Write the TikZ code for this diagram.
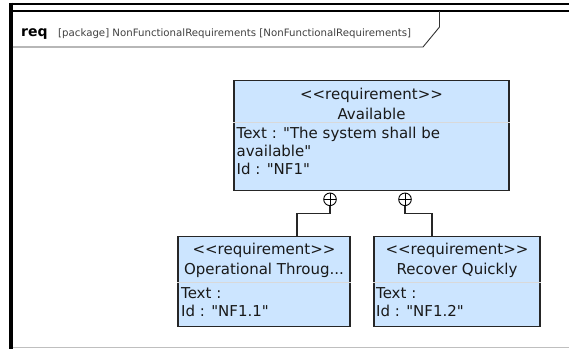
\documentclass[tikz,border=0pt]{standalone}
\usepackage{fontspec}
\newfontfamily\umlfont{DejaVu Sans}
\usepackage{xcolor}
\definecolor{reqblue}{RGB}{204,229,255}

\begin{document}
\begin{tikzpicture}[
  x=1pt,y=-1pt,
  font=\umlfont,
  frameLine/.style={line width=2.5pt,black},
  tabLine/.style={line width=0.9pt,black!80},
  requirement/.style={draw=black!85,line width=1.1pt,fill=reqblue,rectangle,inner sep=0pt},
  stereo/.style={anchor=base,align=center,inner sep=0pt,text=black!90,font=\umlfont\fontsize{15}{20}\selectfont},
  attrs/.style={anchor=base west,align=left,inner sep=0pt,text=black!90,font=\umlfont\fontsize{15}{18}\selectfont},
  compartment/.style={draw=black!15,line width=0.6pt},
  containment/.style={draw,circle,line width=0.9pt,minimum size=12.6pt,inner sep=0pt,
    path picture={\draw[line width=0.9pt] (path picture bounding box.north) -- (path picture bounding box.south)
      (path picture bounding box.west) -- (path picture bounding box.east);}},
  containLine/.style={line width=1.1pt,black!85}]

  \useasboundingbox (0,0) rectangle (569,349);

  % diagram frame and its tab
  \draw[line width=2pt] (9.5,3.5) -- (569,3.5);
  \draw[frameLine] (11,11) -- (569,11);
  \draw[line width=3.5pt] (11,2.5) -- (11,349);
  \draw[gray!50,line width=0.8pt] (13,347.5) -- (569,347.5);
  \draw[tabLine] (12.5,47) -- (423,47) -- (439.5,27) -- (439.5,11);
  \node[anchor=base west,inner sep=0pt,font=\umlfont\bfseries\fontsize{14}{16}\selectfont] (reqkw) at (21,36) {req};
  \node[anchor=base west,inner sep=0pt,text=black!75,font=\umlfont\fontsize{10.2}{12}\selectfont] (reqname) at (58,36)
    {[package] NonFunctionalRequirements [NonFunctionalRequirements]};

  % requirement boxes
  \node[requirement,minimum width=275pt,minimum height=110.5pt] (avail) at (371.5,135.3) {};
  \node[requirement,minimum width=172pt,minimum height=90pt] (opthru) at (264,281.7) {};
  \node[requirement,minimum width=166pt,minimum height=90pt] (recover) at (457,281.7) {};

  \draw[compartment] ([yshift=-43pt]avail.north west) -- ([yshift=-43pt]avail.north east);
  \draw[compartment] ([yshift=-46pt]opthru.north west) -- ([yshift=-46pt]opthru.north east);
  \draw[compartment] ([yshift=-46pt]recover.north west) -- ([yshift=-46pt]recover.north east);

  % texts (base = last line)
  \node[stereo] (availhead) at ([yshift=-39.5pt]avail.north) {<<requirement>>\\Available};
  \node[attrs] (availattr) at ([xshift=3pt,yshift=-95pt]avail.north west)
    {Text : "The system shall be\\available"\\Id : "NF1"};

  \node[stereo] (opthruhead) at ([yshift=-38pt]opthru.north) {<<requirement>>\\Operational Throug...};
  \node[attrs] (opthruattr) at ([xshift=3.5pt,yshift=-80pt]opthru.north west) {Text :\\Id : "NF1.1"};

  \node[stereo] (recoverhead) at ([yshift=-38pt]recover.north) {<<requirement>>\\Recover Quickly};
  \node[attrs] (recoverattr) at ([xshift=2.5pt,yshift=-80pt]recover.north west) {Text :\\Id : "NF1.2"};

  % containment
  \node[containment] (plusL) at (330,199.3) {};
  \node[containment] (plusR) at (405,199.3) {};
  \coordinate (bendL) at (297,213.3);
  \coordinate (bendR) at (432,213.3);
  \draw[containLine] (plusL.south) |- (bendL) -- (bendL |- opthru.north);
  \draw[containLine] (plusR.south) |- (bendR) -- (bendR |- recover.north);

\end{tikzpicture}
\end{document}
